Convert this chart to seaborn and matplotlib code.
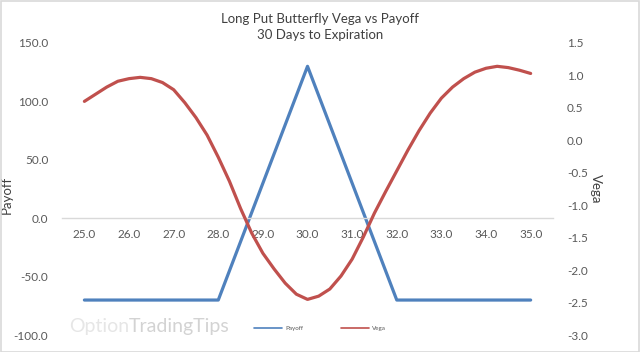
import matplotlib
matplotlib.use('Agg')
import matplotlib.pyplot as plt
from matplotlib.patches import Rectangle
from matplotlib.lines import Line2D
import seaborn as sns
import pandas as pd

# stock price at expiration
prices = [25.0, 25.25, 25.5, 25.75, 26.0, 26.25, 26.5, 26.75, 27.0, 27.25, 27.5,
          27.75, 28.0, 28.25, 28.5, 28.75, 29.0, 29.25, 29.5, 29.75, 30.0,
          30.25, 30.5, 30.75, 31.0, 31.25, 31.5, 31.75, 32.0, 32.25, 32.5,
          32.75, 33.0, 33.25, 33.5, 33.75, 34.0, 34.25, 34.5, 34.75, 35.0]
payoff = [-70, -70, -70, -70, -70, -70, -70, -70, -70, -70, -70,
          -70, -70, -45, -20, 5, 30, 55, 80, 105, 130,
          105, 80, 55, 30, 5, -20, -45, -70, -70, -70,
          -70, -70, -70, -70, -70, -70, -70, -70, -70, -70]
vega = [0.60, 0.71, 0.82, 0.91, 0.95, 0.97, 0.95, 0.89, 0.78, 0.58, 0.35,
        0.08, -0.26, -0.63, -1.05, -1.43, -1.74, -1.98, -2.20, -2.37, -2.45,
        -2.40, -2.29, -2.09, -1.83, -1.49, -1.12, -0.79, -0.47, -0.15, 0.15,
        0.42, 0.65, 0.82, 0.95, 1.05, 1.11, 1.14, 1.12, 1.08, 1.03]

xticks = [25, 26, 27, 28, 29, 30, 31, 32, 33, 34, 35]
left_ticks = [-100, -50, 0, 50, 100, 150]
right_ticks = [-3.0, -2.5, -2.0, -1.5, -1.0, -0.5, 0.0, 0.5, 1.0, 1.5]

BLUE = '#4F81BD'
RED = '#C0504D'
TXT = '#595959'

df = pd.DataFrame({'Price': prices, 'Payoff': payoff, 'Vega': vega})

sns.set_style("white")
plt.rcParams['font.family'] = ['Lato', 'DejaVu Sans']

fig = plt.figure(figsize=(6.4, 3.52), dpi=100)
ax = fig.add_axes([0.097, 0.048, 0.767, 0.830])
ax2 = ax.twinx()

sns.lineplot(data=df, x='Price', y='Payoff', ax=ax, color=BLUE, linewidth=2.3)
sns.lineplot(data=df, x='Price', y='Vega', ax=ax2, color=RED, linewidth=2.3)

ax.set_xlim(24.5, 35.5)
ax.set_ylim(-100, 150)
ax2.set_ylim(-3.0, 1.5)

ax.set_xticks(xticks)
ax.set_xticklabels(['%.1f' % t for t in xticks])
ax.set_yticks(left_ticks)
ax.set_yticklabels(['%.1f' % t for t in left_ticks])
ax2.set_yticks(right_ticks)
ax2.set_yticklabels(['%.1f' % t for t in right_ticks])

for a in (ax, ax2):
    for s in a.spines.values():
        s.set_visible(False)
ax.spines['bottom'].set_visible(True)
ax.spines['bottom'].set_position(('data', 0))
ax.spines['bottom'].set_color('#d9d9d9')
ax.spines['bottom'].set_linewidth(1)

ax.tick_params(axis='x', length=0, pad=8, labelsize=8.5, labelcolor=TXT)
ax.tick_params(axis='y', length=0, pad=10, labelsize=8.5, labelcolor=TXT)
ax2.tick_params(axis='y', length=0, pad=10, labelsize=8.5, labelcolor=TXT)

ax.set_xlabel('')
ax.set_ylabel('Payoff', fontsize=9.5, color='#404040')
ax.yaxis.set_label_coords(-0.100, 0.48)
ax2.set_ylabel('Vega', fontsize=9.5, color='#404040', rotation=270, va='center')
ax2.yaxis.set_label_coords(1.088, 0.50)

fig.text(0.5, 0.945, 'Long Put Butterfly Vega vs Payoff', ha='center', va='center',
         fontsize=9.5, color='#404040')
fig.text(0.5, 0.900, '30 Days to Expiration', ha='center', va='center',
         fontsize=9.5, color='#404040')

# watermark
fig.canvas.draw()
w1 = fig.text(0.108, 0.072, 'Option', ha='left', va='center', fontsize=14, color='#e6e6e6')
bb = w1.get_window_extent(fig.canvas.get_renderer())
fig.text(bb.x1 / fig.bbox.width, 0.072, 'TradingTips', ha='left', va='center',
         fontsize=14, color='#d3d3d3')

handles = [Line2D([], [], color=BLUE, lw=1.2), Line2D([], [], color=RED, lw=1.2)]
fig.legend(handles, ['Payoff', 'Vega'], loc='center', bbox_to_anchor=(0.5, 0.068),
           ncol=2, frameon=False, fontsize=4.5, handlelength=4.5, columnspacing=6,
           handletextpad=0.5, labelcolor=TXT)

fig.patches.append(Rectangle((0.001, 0.001), 0.997, 0.997, transform=fig.transFigure,
                             fill=False, edgecolor='#d9d9d9', lw=1.2))

fig.savefig('out.png', dpi=100)
